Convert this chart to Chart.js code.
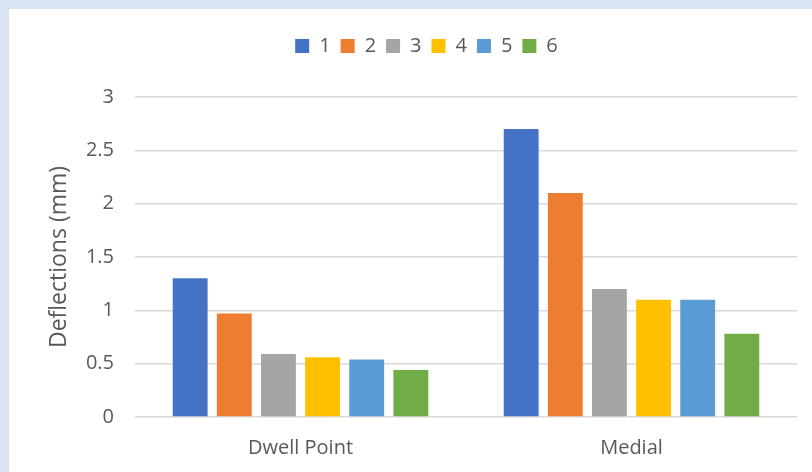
<!DOCTYPE html>
<html>
<head>
<meta charset="utf-8">
<title>Deflections</title>
<script src="https://cdn.jsdelivr.net/npm/chart.js@4.4.0/dist/chart.umd.min.js"></script>
<style>
    body {
        margin: 0;
        background: #dae3f3;
    }
    #chartBox {
        position: absolute;
        left: 9px;
        top: 9px;
        width: 803px;
        height: 463px;
        background: #fff;
    }
</style>
</head>
<body>
<div id="chartBox">
    <canvas id="myChart" width="803" height="463"></canvas>
</div>
<script>
var categories = ['Dwell Point', 'Medial'];
var seriesNames = ['1', '2', '3', '4', '5', '6'];

var series1 = [1.3, 2.7];
var series2 = [0.97, 2.1];
var series3 = [0.59, 1.2];
var series4 = [0.56, 1.1];
var series5 = [0.54, 1.1];
var series6 = [0.44, 0.78];

var yTicks = [0, 0.5, 1, 1.5, 2, 2.5, 3];

var colors = ['#4472c4', '#ed7d31', '#a5a5a5', '#ffc000', '#5b9bd5', '#70ad47'];
var textColor = '#595959';

var allSeries = [series1, series2, series3, series4, series5, series6];
var datasets = [];
allSeries.forEach(function (values, i) {
    datasets.push({
        label: seriesNames[i],
        data: values,
        backgroundColor: colors[i],
        borderWidth: 0,
        categoryPercentage: 0.8,
        barPercentage: 0.79
    });
});

Chart.defaults.font.family = "'Open Sans', sans-serif";
Chart.defaults.font.size = 20;
Chart.defaults.color = textColor;

var myChart = new Chart(document.getElementById('myChart'), {
    type: 'bar',
    data: {
        labels: categories,
        datasets: datasets
    },
    options: {
        responsive: false,
        animation: false,
        layout: {
            padding: { left: 47, right: 15, top: 17, bottom: 11 }
        },
        plugins: {
            legend: {
                position: 'top',
                labels: {
                    boxWidth: 14,
                    boxHeight: 14,
                    padding: 10,
                    color: textColor
                }
            },
            // empty line that keeps the gap between legend and bars
            subtitle: {
                display: true,
                text: '',
                weight: 500,
                font: { size: 10 },
                padding: { top: 0, bottom: 19 }
            },
            tooltip: { enabled: false }
        },
        scales: {
            x: {
                grid: { display: false, drawTicks: false },
                border: { display: false },
                ticks: { padding: 19, color: textColor },
                afterFit: function (scale) {
                    scale.height = 44;
                }
            },
            y: {
                min: yTicks[0],
                max: yTicks[yTicks.length - 1],
                afterBuildTicks: function (scale) {
                    scale.ticks = yTicks.map(function (v) { return { value: v }; });
                },
                afterFit: function (scale) {
                    scale.width = 79;
                },
                grid: {
                    color: '#d9d9d9',
                    lineWidth: 1.5,
                    drawTicks: false
                },
                border: { display: false },
                ticks: {
                    padding: 21,
                    color: textColor,
                    callback: function (value) {
                        return String(value);
                    }
                },
                title: {
                    display: true,
                    text: 'Deflections (mm)',
                    color: textColor,
                    font: { size: 23 },
                    padding: { top: -10, bottom: 0 }
                }
            }
        }
    }
});
</script>
</body>
</html>
